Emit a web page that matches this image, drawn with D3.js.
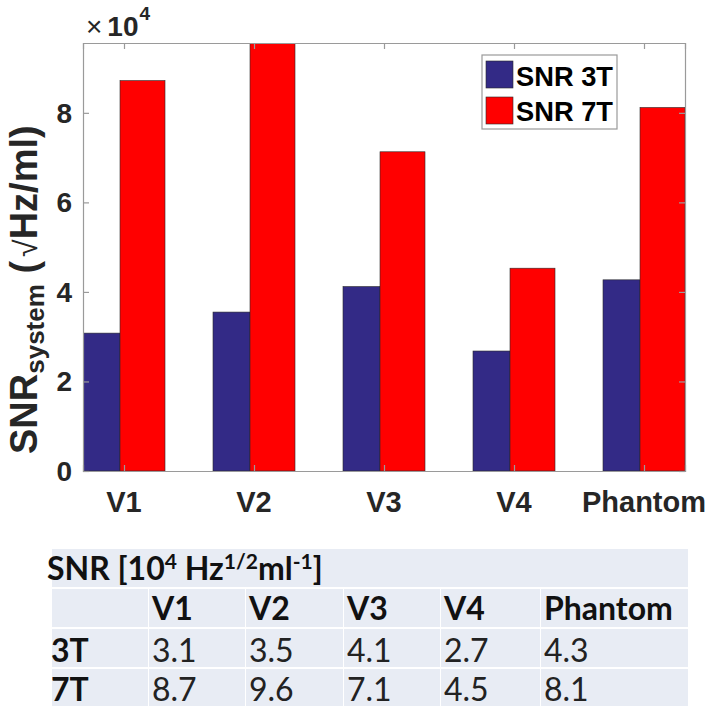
<!DOCTYPE html>
<html>
<head>
<meta charset="utf-8">
<script src="https://cdn.jsdelivr.net/npm/d3@7"></script>
<style>
  html, body { margin: 0; padding: 0; background: #fff; }
  svg { display: block; }
</style>
</head>
<body>
<svg id="chart" width="709" height="710"></svg>
<script>
// ---------------- data ----------------
const categories = ["V1", "V2", "V3", "V4", "Phantom"];
const snr3T = [3.08, 3.55, 4.12, 2.68, 4.27];   // x 10^4
const snr7T = [8.72, 9.60, 7.13, 4.53, 8.12];   // x 10^4
const seriesNames = ["SNR 3T", "SNR 7T"];
const yTicks = [0, 2, 4, 6, 8];
const tableTitleParts = ["SNR [10", "4", " Hz", "1/2", "ml", "-1", "]"];
const tableRowLabels = ["3T", "7T"];
const table3T = ["3.1", "3.5", "4.1", "2.7", "4.3"];
const table7T = ["8.7", "9.6", "7.1", "4.5", "8.1"];

// ---------------- layout ----------------
const svg = d3.select("#chart");
const P = { left: 83, right: 685, top: 43, bottom: 471 };
const colors = ["#332a86", "#ff0000"];
const axisGray = "#9a9a9a";
const font = "'Liberation Sans', Arial, sans-serif";

const x = d3.scaleLinear().domain([1 - 41 / 130, 5 + 41 / 130]).range([P.left, P.right]);
const y = d3.scaleLinear().domain([0, 9.56]).range([P.bottom, P.top]);

svg.append("defs").append("clipPath").attr("id", "plotclip")
  .append("rect").attr("x", P.left).attr("y", P.top)
  .attr("width", P.right - P.left).attr("height", P.bottom - P.top);

// bars
const barData = [];
categories.forEach((c, i) => {
  barData.push({ s: 0, i, v: snr3T[i], x0: i + 1 - 41 / 130, x1: i + 1 - 4 / 130 });
  barData.push({ s: 1, i, v: snr7T[i], x0: i + 1 - 4 / 130, x1: i + 1 + 41 / 130 });
});
svg.append("g").attr("clip-path", "url(#plotclip)")
  .selectAll("rect").data(barData).join("rect")
  .attr("x", d => x(d.x0))
  .attr("width", d => x(d.x1) - x(d.x0))
  .attr("y", d => y(d.v))
  .attr("height", d => y(0) - y(d.v))
  .attr("fill", d => colors[d.s])
  .attr("stroke", "#2a2a2a")
  .attr("stroke-width", 0.6);

// axes (box with inward ticks)
const xAxisB = d3.axisBottom(x).tickValues([1, 2, 3, 4, 5]).tickSize(-6).tickFormat("");
const xAxisT = d3.axisTop(x).tickValues([1, 2, 3, 4, 5]).tickSize(-6).tickFormat("");
const yAxisL = d3.axisLeft(y).tickValues(yTicks).tickSize(-6).tickFormat("");
const yAxisR = d3.axisRight(y).tickValues(yTicks).tickSize(-6).tickFormat("");
[[xAxisB, `translate(0,${P.bottom})`], [xAxisT, `translate(0,${P.top})`],
 [yAxisL, `translate(${P.left},0)`], [yAxisR, `translate(${P.right},0)`]].forEach(([ax, tr]) => {
  const g = svg.append("g").attr("transform", tr).call(ax);
  g.selectAll("path,line").attr("stroke", axisGray).attr("stroke-width", 1.2);
});

// y tick labels
svg.append("g").selectAll("text").data(yTicks).join("text")
  .attr("x", P.left - 11).attr("y", d => y(d) + 10)
  .attr("text-anchor", "end")
  .attr("font-family", font).attr("font-weight", "bold").attr("font-size", 28)
  .attr("fill", "#262626")
  .text(d => d);

// x tick labels
svg.append("g").selectAll("text").data(categories).join("text")
  .attr("x", (d, i) => x(i + 1)).attr("y", 512)
  .attr("text-anchor", "middle")
  .attr("font-family", font).attr("font-weight", "bold").attr("font-size", 29)
  .attr("fill", "#262626")
  .text(d => d);

// exponent label
const ex = svg.append("text").attr("x", 86).attr("y", 36)
  .attr("font-family", font).attr("fill", "#262626");
ex.append("tspan").attr("font-size", 28).text("×");
ex.append("tspan").attr("font-size", 28).attr("font-weight", "bold").attr("dx", 5).text("10");
ex.append("tspan").attr("font-size", 19).attr("font-weight", "bold").attr("dx", 1).attr("dy", -16).text("4");

// y label
const yl = svg.append("text").attr("transform", "translate(37,454) rotate(-90)")
  .attr("font-family", font).attr("font-weight", "bold").attr("font-size", 38)
  .attr("fill", "#262626");
yl.append("tspan").text("SNR");
yl.append("tspan").attr("font-size", 26).attr("dy", 7).text("system");
yl.append("tspan").attr("dy", -7).text(" (");
yl.append("tspan").attr("font-weight", "normal").attr("font-size", 32).attr("dx", 4).text("√");
yl.append("tspan").text("Hz/ml)");

// legend
const lg = svg.append("g");
lg.append("rect").attr("x", 482).attr("y", 55).attr("width", 135).attr("height", 74)
  .attr("fill", "#fff").attr("stroke", axisGray).attr("stroke-width", 1.2);
seriesNames.forEach((s, k) => {
  lg.append("rect").attr("x", 486).attr("y", 61 + k * 36).attr("width", 27).attr("height", 27)
    .attr("fill", colors[k]).attr("stroke", "#2a2a2a").attr("stroke-width", 0.6);
  lg.append("text").attr("x", 516).attr("y", 86 + k * 35)
    .attr("font-family", font).attr("font-weight", "bold").attr("font-size", 28)
    .attr("textLength", 97).attr("lengthAdjust", "spacingAndGlyphs")
    .attr("fill", "#000").text(s);
});

// ---------------- table ----------------
const tFont = "Lato, 'Noto Sans', sans-serif";
const colEdges = [52, 148, 245, 343, 440, 540, 688];
const rowEdges = [549, 588, 628, 668, 707];
const cellFill = "#e8ecf4";
const tg = svg.append("g");
// title row (merged)
tg.append("rect").attr("x", colEdges[0]).attr("y", rowEdges[0])
  .attr("width", colEdges[6] - colEdges[0]).attr("height", rowEdges[1] - rowEdges[0] - 1)
  .attr("fill", cellFill);
for (let r = 1; r < 4; r++) {
  for (let c = 0; c < 6; c++) {
    tg.append("rect").attr("x", colEdges[c] + (c > 0 ? 1 : 0)).attr("y", rowEdges[r] + 1)
      .attr("width", colEdges[c + 1] - colEdges[c] - (c > 0 ? 1 : 0))
      .attr("height", rowEdges[r + 1] - rowEdges[r] - 2)
      .attr("fill", cellFill);
  }
}
const tt = tg.append("text").attr("x", 47).attr("y", 580)
  .attr("font-family", tFont).attr("font-weight", "bold").attr("font-size", 32).attr("fill", "#111");
tableTitleParts.forEach((p, k) => {
  const sup = k % 2 === 1;
  tt.append("tspan").attr("font-size", sup ? 21 : 32)
    .attr("dy", sup ? -11 : (k > 0 ? 11 : 0)).text(p);
});
// header row
categories.forEach((c, i) => {
  tg.append("text").attr("x", colEdges[i + 1] + 4).attr("y", 620)
    .attr("font-family", tFont).attr("font-weight", "bold").attr("font-size", 32)
    .attr("fill", "#111").text(c);
});
// data rows
[table3T, table7T].forEach((row, r) => {
  const yb = [662, 701][r];
  tg.append("text").attr("x", 51).attr("y", yb)
    .attr("font-family", tFont).attr("font-weight", "bold").attr("font-size", 32)
    .attr("fill", "#111").text(tableRowLabels[r]);
  row.forEach((v, i) => {
    tg.append("text").attr("x", colEdges[i + 1] + 4).attr("y", yb)
      .attr("font-family", tFont).attr("font-weight", "400").attr("font-size", 32)
      .attr("fill", "#222").text(v);
  });
});
</script>
</body>
</html>
